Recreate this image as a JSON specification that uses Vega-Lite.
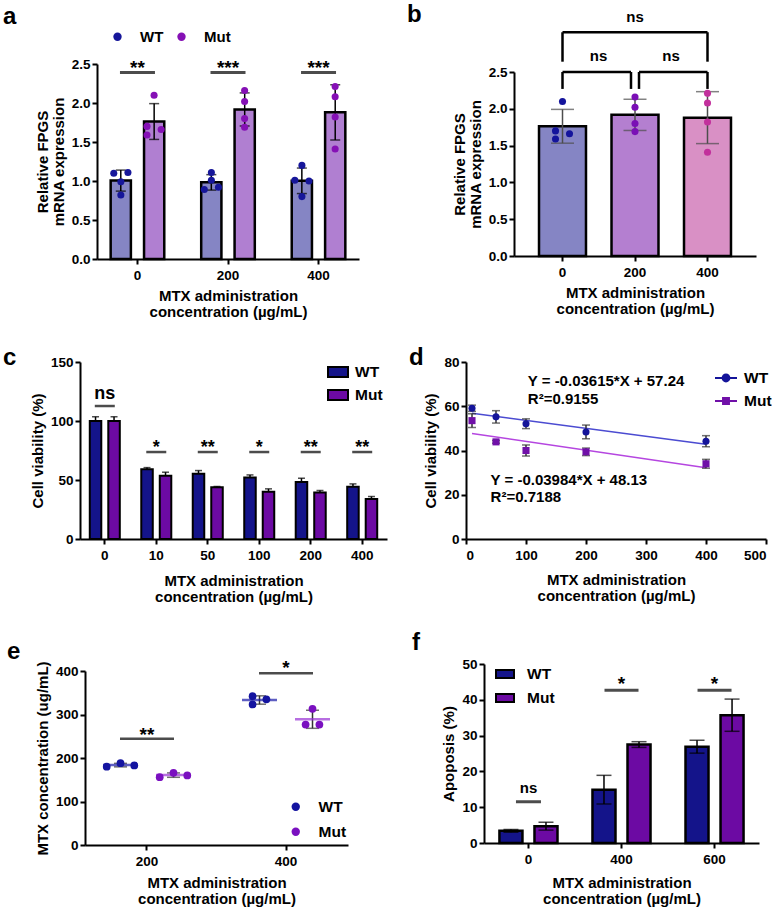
{
  "$schema": "https://vega.github.io/schema/vega-lite/v6.json",
  "background": "white",
  "padding": {"left": 3, "top": 2, "right": 0, "bottom": 0},
  "config": {
    "font": "Liberation Sans",
    "view": {"stroke": null},
    "axis": {
      "grid": false, "domainColor": "#000", "domainWidth": 2, "tickColor": "#000", "tickWidth": 2, "tickSize": 5,
      "labelFont": "Liberation Sans", "labelFontSize": 13.5, "labelFontWeight": "bold", "labelColor": "#000", "labelPadding": 2, "labelOverlap": false, "labelBound": false,
      "titleFont": "Liberation Sans", "titleFontSize": 15, "titleFontWeight": "bold", "titleColor": "#000", "titleLineHeight": 16
    },
    "axisX": {"labelAngle": 0, "labelPadding": 4},
    "axisY": {"titlePadding": 5},
    "legend": {"labelFont": "Liberation Sans", "labelFontSize": 15.5, "labelFontWeight": "bold", "labelColor": "#000", "padding": 0},
    "title": {"font": "Liberation Sans", "fontSize": 24, "fontWeight": "bold", "color": "#000", "anchor": "start", "frame": "group", "offset": 0, "baseline": "alphabetic"},
    "text": {"font": "Liberation Sans", "fontWeight": "bold", "color": "#000"}
  },
  "datasets": {
    "fpgs": [
      {"dose": 0, "genotype": "WT", "value": 1.10, "lane": -1},
      {"dose": 0, "genotype": "WT", "value": 1.11, "lane": 1},
      {"dose": 0, "genotype": "WT", "value": 0.99, "lane": 0},
      {"dose": 0, "genotype": "WT", "value": 0.82, "lane": 0},
      {"dose": 200, "genotype": "WT", "value": 1.11, "lane": 0},
      {"dose": 200, "genotype": "WT", "value": 1.01, "lane": 0},
      {"dose": 200, "genotype": "WT", "value": 0.89, "lane": -1},
      {"dose": 200, "genotype": "WT", "value": 0.92, "lane": 1},
      {"dose": 400, "genotype": "WT", "value": 1.20, "lane": 0},
      {"dose": 400, "genotype": "WT", "value": 1.01, "lane": -1},
      {"dose": 400, "genotype": "WT", "value": 1.00, "lane": 1},
      {"dose": 400, "genotype": "WT", "value": 0.80, "lane": 0},
      {"dose": 0, "genotype": "Mut", "value": 2.10, "lane": 0},
      {"dose": 0, "genotype": "Mut", "value": 1.70, "lane": -1},
      {"dose": 0, "genotype": "Mut", "value": 1.66, "lane": 1},
      {"dose": 0, "genotype": "Mut", "value": 1.59, "lane": -1},
      {"dose": 200, "genotype": "Mut", "value": 2.16, "lane": 0},
      {"dose": 200, "genotype": "Mut", "value": 2.02, "lane": 0},
      {"dose": 200, "genotype": "Mut", "value": 1.80, "lane": 0},
      {"dose": 200, "genotype": "Mut", "value": 1.69, "lane": 0},
      {"dose": 400, "genotype": "Mut", "value": 2.21, "lane": 0},
      {"dose": 400, "genotype": "Mut", "value": 2.08, "lane": 0},
      {"dose": 400, "genotype": "Mut", "value": 1.82, "lane": 0},
      {"dose": 400, "genotype": "Mut", "value": 1.41, "lane": 0}
    ],
    "viability": [
      {"dose": 0, "genotype": "WT", "mean": 100, "err": 3.6},
      {"dose": 10, "genotype": "WT", "mean": 59.1, "err": 1.4},
      {"dose": 50, "genotype": "WT", "mean": 55.2, "err": 2.8},
      {"dose": 100, "genotype": "WT", "mean": 52.1, "err": 2.2},
      {"dose": 200, "genotype": "WT", "mean": 48.4, "err": 3.1},
      {"dose": 400, "genotype": "WT", "mean": 44.2, "err": 2.5},
      {"dose": 0, "genotype": "Mut", "mean": 100, "err": 3.6},
      {"dose": 10, "genotype": "Mut", "mean": 53.5, "err": 3.1},
      {"dose": 50, "genotype": "Mut", "mean": 43.9, "err": 0.6},
      {"dose": 100, "genotype": "Mut", "mean": 40.0, "err": 2.5},
      {"dose": 200, "genotype": "Mut", "mean": 39.4, "err": 1.7},
      {"dose": 400, "genotype": "Mut", "mean": 34.0, "err": 2.0}
    ],
    "vfit": [
      {"genotype": "WT", "dose": 10, "fit": 56.8785},
      {"genotype": "WT", "dose": 400, "fit": 42.78},
      {"genotype": "Mut", "dose": 10, "fit": 47.7316},
      {"genotype": "Mut", "dose": 400, "fit": 32.194}
    ],
    "econc": [
      {"dose": 200, "genotype": "WT", "value": 180, "lane": -2},
      {"dose": 200, "genotype": "WT", "value": 188, "lane": 0},
      {"dose": 200, "genotype": "WT", "value": 183, "lane": 2},
      {"dose": 200, "genotype": "Mut", "value": 156, "lane": -2},
      {"dose": 200, "genotype": "Mut", "value": 166, "lane": 0},
      {"dose": 200, "genotype": "Mut", "value": 160, "lane": 2},
      {"dose": 400, "genotype": "WT", "value": 342, "lane": -1},
      {"dose": 400, "genotype": "WT", "value": 335, "lane": 1},
      {"dose": 400, "genotype": "WT", "value": 323, "lane": -1},
      {"dose": 400, "genotype": "Mut", "value": 313, "lane": 0},
      {"dose": 400, "genotype": "Mut", "value": 277, "lane": -1},
      {"dose": 400, "genotype": "Mut", "value": 277, "lane": 1}
    ],
    "apoptosis": [
      {"dose": 0, "genotype": "WT", "mean": 3.4, "err": 0.4},
      {"dose": 400, "genotype": "WT", "mean": 14.9, "err": 4.0},
      {"dose": 600, "genotype": "WT", "mean": 26.9, "err": 1.8},
      {"dose": 0, "genotype": "Mut", "mean": 4.7, "err": 1.1},
      {"dose": 400, "genotype": "Mut", "mean": 27.5, "err": 0.8},
      {"dose": 600, "genotype": "Mut", "mean": 35.7, "err": 4.5}
    ]
  },
  "columns": 1,
  "align": "none",
  "spacing": 26,
  "resolve": {"scale": {"color": "independent", "fill": "independent", "shape": "independent", "stroke": "independent", "xOffset": "independent"}},
  "concat": [
    {
      "columns": 2,
      "align": "none",
      "spacing": 48,
      "resolve": {"scale": {"color": "independent", "fill": "independent", "shape": "independent", "stroke": "independent", "xOffset": "independent"}},
      "concat": [
        {
          "width": 279, "height": 195,
          "title": {"text": "a", "dx": -77, "dy": 4},
          "resolve": {"scale": {"xOffset": "independent"}},
          "layer": [
            {
              "data": {"name": "fpgs"},
              "transform": [
                {"aggregate": [{"op": "mean", "field": "value", "as": "m"}, {"op": "stdev", "field": "value", "as": "sd"}], "groupby": ["dose", "genotype"]},
                {"calculate": "datum.m - datum.sd", "as": "lo"},
                {"calculate": "datum.m + datum.sd", "as": "hi"}
              ],
              "encoding": {
                "x": {"field": "dose", "type": "ordinal", "scale": {"range": [17, 279], "paddingInner": 0.408, "paddingOuter": 0.151}, "axis": {"titlePadding": 7, "title": ["MTX administration", "concentration (µg/mL)"]}},
                "xOffset": {"field": "genotype", "type": "nominal", "sort": ["WT", "Mut"], "scale": {"paddingInner": 0.394, "paddingOuter": 0}}
              },
              "layer": [
                {
                  "mark": {"type": "bar", "stroke": "#000", "strokeWidth": 2.5},
                  "encoding": {
                    "y": {"field": "m", "type": "quantitative", "scale": {"domain": [0, 2.5], "nice": false}, "axis": {"values": [0, 0.5, 1, 1.5, 2, 2.5], "tickCount": 6, "format": ".1f", "offset": -17, "labelOverlap": false, "title": ["Relative FPGS", "mRNA expression"]}},
                    "fill": {"condition": {"test": "datum.genotype === 'WT'", "value": "#8585c4"}, "value": "#b07fd1"}
                  }
                },
                {"mark": {"type": "rule", "color": "#000", "strokeWidth": 1.5}, "encoding": {"y": {"field": "lo", "type": "quantitative"}, "y2": {"field": "hi"}}},
                {"mark": {"type": "tick", "orient": "horizontal", "color": "#000", "size": 10, "thickness": 1.5}, "encoding": {"y": {"field": "hi", "type": "quantitative"}}},
                {"mark": {"type": "tick", "orient": "horizontal", "color": "#000", "size": 10, "thickness": 1.5}, "encoding": {"y": {"field": "lo", "type": "quantitative"}}}
              ]
            },
            {
              "data": {"name": "fpgs"},
              "transform": [{"calculate": "(datum.genotype === 'WT' ? 0.19 : 0.81) + datum.lane * 0.132", "as": "off"}],
              "mark": {"type": "circle", "size": 50, "opacity": 1},
              "encoding": {
                "x": {"field": "dose", "type": "ordinal"},
                "xOffset": {"field": "off", "type": "quantitative", "scale": {"domain": [0, 1], "nice": false, "zero": false}},
                "y": {"field": "value", "type": "quantitative"},
                "color": {
                  "field": "genotype", "type": "nominal",
                  "scale": {"domain": ["WT", "Mut"], "range": ["#16169a", "#8510b5"]},
                  "legend": {"title": null, "orient": "none", "direction": "horizontal", "legendX": 30, "legendY": -35, "symbolType": "circle", "symbolSize": 70, "labelOffset": 15, "columnPadding": 10, "labelFontSize": 15}
                }
              }
            },
            {
              "data": {"values": [
                {"dose": 0, "label": "**", "line_at": 2.39, "text_at": 2.37},
                {"dose": 200, "label": "***", "line_at": 2.39, "text_at": 2.37},
                {"dose": 400, "label": "***", "line_at": 2.39, "text_at": 2.37}
              ]},
              "layer": [
                {"mark": {"type": "tick", "orient": "horizontal", "color": "#000", "size": 35, "thickness": 3}, "encoding": {"x": {"field": "dose", "type": "ordinal"}, "y": {"field": "line_at", "type": "quantitative"}}},
                {"mark": {"type": "text", "fontSize": 19, "baseline": "alphabetic"}, "encoding": {"x": {"field": "dose", "type": "ordinal"}, "y": {"field": "text_at", "type": "quantitative"}, "text": {"field": "label"}}}
              ]
            }
          ]
        },
        {
          "width": 242, "height": 192,
          "title": {"text": "b", "dx": -107, "dy": 21},
          "resolve": {"scale": {"xOffset": "independent"}},
          "layer": [
            {
              "data": {"name": "fpgs"},
              "transform": [
                {"filter": "datum.genotype === 'Mut'"},
                {"aggregate": [{"op": "mean", "field": "value", "as": "m"}, {"op": "stdev", "field": "value", "as": "sd"}], "groupby": ["dose"]},
                {"calculate": "datum.m - datum.sd", "as": "lo"},
                {"calculate": "datum.m + datum.sd", "as": "hi"}
              ],
              "encoding": {
                "x": {"field": "dose", "type": "ordinal", "scale": {"paddingInner": 0.352, "paddingOuter": 0.345}, "axis": {"titlePadding": 7, "title": ["MTX administration", "concentration (µg/mL)"]}}
              },
              "layer": [
                {
                  "mark": {"type": "bar", "stroke": "#000", "strokeWidth": 2.5},
                  "encoding": {
                    "y": {"field": "m", "type": "quantitative", "scale": {"domain": [0, 2.5], "range": [192, 8], "nice": false}, "axis": {"values": [0, 0.5, 1, 1.5, 2, 2.5], "tickCount": 6, "format": ".1f", "labelOverlap": false, "title": ["Relative FPGS", "mRNA expression"]}},
                    "fill": {"field": "dose", "type": "ordinal", "scale": {"range": ["#8585c4", "#b47fd0", "#d990c5"]}, "legend": null}
                  }
                },
                {"mark": {"type": "rule", "color": "#4d4d4d", "strokeWidth": 1.5}, "encoding": {"y": {"field": "lo", "type": "quantitative"}, "y2": {"field": "hi"}}},
                {"mark": {"type": "tick", "orient": "horizontal", "color": "#4d4d4d", "size": 23, "thickness": 1.5}, "encoding": {"y": {"field": "hi", "type": "quantitative"}}},
                {"mark": {"type": "tick", "orient": "horizontal", "color": "#4d4d4d", "size": 23, "thickness": 1.5}, "encoding": {"y": {"field": "lo", "type": "quantitative"}}}
              ]
            },
            {
              "data": {"name": "fpgs"},
              "transform": [{"filter": "datum.genotype === 'Mut'"}, {"calculate": "0.5 + datum.lane * 0.149", "as": "off"}],
              "mark": {"type": "circle", "size": 50, "opacity": 1},
              "encoding": {
                "x": {"field": "dose", "type": "ordinal"},
                "xOffset": {"field": "off", "type": "quantitative", "scale": {"domain": [0, 1], "nice": false, "zero": false}},
                "y": {"field": "value", "type": "quantitative"},
                "color": {"field": "dose", "type": "ordinal", "scale": {"range": ["#14149c", "#7a0fb5", "#c2309c"]}, "legend": null}
              }
            },
            {
              "data": {"values": [
                {"pair": "L", "from": 0, "to": 200, "mid": 0, "level": 2.5, "drop": 2.27, "label": "ns", "text_at": 2.65},
                {"pair": "R", "from": 200, "to": 400, "mid": 200, "level": 2.5, "drop": 2.27, "label": "ns", "text_at": 2.65},
                {"pair": "T", "from": 0, "to": 400, "mid": 200, "level": 3.04, "drop": 2.64, "label": "ns", "text_at": 3.18}
              ]},
              "layer": [
                {"transform": [{"filter": "datum.pair === 'T'"}], "mark": {"type": "rule", "color": "#000", "strokeWidth": 2.5}, "encoding": {"x": {"field": "from", "type": "ordinal"}, "x2": {"field": "to"}, "y": {"field": "level", "type": "quantitative"}}},
                {"transform": [{"filter": "datum.pair === 'L'"}], "mark": {"type": "rule", "color": "#000", "strokeWidth": 2.5, "x2Offset": -4}, "encoding": {"x": {"field": "from", "type": "ordinal"}, "x2": {"field": "to"}, "y": {"field": "level", "type": "quantitative"}}},
                {"transform": [{"filter": "datum.pair === 'R'"}], "mark": {"type": "rule", "color": "#000", "strokeWidth": 2.5, "xOffset": 4}, "encoding": {"x": {"field": "from", "type": "ordinal"}, "x2": {"field": "to"}, "y": {"field": "level", "type": "quantitative"}}},
                {"transform": [{"filter": "datum.pair !== 'R'"}], "mark": {"type": "rule", "color": "#000", "strokeWidth": 2.5}, "encoding": {"x": {"field": "from", "type": "ordinal"}, "y": {"field": "level", "type": "quantitative"}, "y2": {"field": "drop"}}},
                {"transform": [{"filter": "datum.pair === 'R'"}], "mark": {"type": "rule", "color": "#000", "strokeWidth": 2.5, "xOffset": 4}, "encoding": {"x": {"field": "from", "type": "ordinal"}, "y": {"field": "level", "type": "quantitative"}, "y2": {"field": "drop"}}},
                {"transform": [{"filter": "datum.pair !== 'L'"}], "mark": {"type": "rule", "color": "#000", "strokeWidth": 2.5}, "encoding": {"x": {"field": "to", "type": "ordinal"}, "y": {"field": "level", "type": "quantitative"}, "y2": {"field": "drop"}}},
                {"transform": [{"filter": "datum.pair === 'L'"}], "mark": {"type": "rule", "color": "#000", "strokeWidth": 2.5, "xOffset": -4}, "encoding": {"x": {"field": "to", "type": "ordinal"}, "y": {"field": "level", "type": "quantitative"}, "y2": {"field": "drop"}}},
                {"transform": [{"filter": "datum.pair !== 'T'"}], "mark": {"type": "text", "fontSize": 15, "baseline": "alphabetic", "dx": 36}, "encoding": {"x": {"field": "mid", "type": "ordinal"}, "y": {"field": "text_at", "type": "quantitative"}, "text": {"field": "label"}}},
                {"transform": [{"filter": "datum.pair === 'T'"}], "mark": {"type": "text", "fontSize": 15, "baseline": "alphabetic"}, "encoding": {"x": {"field": "mid", "type": "ordinal"}, "y": {"field": "text_at", "type": "quantitative"}, "text": {"field": "label"}}}
              ]
            }
          ]
        }
      ]
    },
    {
      "columns": 2,
      "align": "none",
      "spacing": 22,
      "resolve": {"scale": {"color": "independent", "fill": "independent", "shape": "independent", "stroke": "independent", "xOffset": "independent"}},
      "concat": [
        {
          "width": 307, "height": 177,
          "title": {"text": "c", "dx": -77, "dy": 19},
          "layer": [
            {
              "data": {"name": "viability"},
              "transform": [{"calculate": "datum.mean + datum.err", "as": "hi"}],
              "encoding": {
                "x": {"field": "dose", "type": "ordinal", "scale": {"paddingInner": 0.417, "paddingOuter": 0.19}, "axis": {"titlePadding": 12, "title": ["MTX administration", "concentration (µg/mL)"]}},
                "xOffset": {"field": "genotype", "type": "nominal", "sort": ["WT", "Mut"], "scale": {"paddingInner": 0.378, "paddingOuter": 0}}
              },
              "layer": [
                {
                  "mark": {"type": "bar", "stroke": "#000", "strokeWidth": 2},
                  "encoding": {
                    "y": {"field": "mean", "type": "quantitative", "scale": {"domain": [0, 150], "nice": false}, "axis": {"values": [0, 50, 100, 150], "tickCount": 4, "labelOverlap": false, "title": "Cell viability (%)"}},
                    "fill": {
                      "field": "genotype", "type": "nominal",
                      "scale": {"domain": ["WT", "Mut"], "range": ["#14148a", "#6c0aa3"]},
                      "legend": {"title": null, "orient": "none", "legendX": 247, "legendY": -1, "symbolType": "M-1,-0.5H1V0.5H-1Z", "symbolSize": 400, "symbolStrokeColor": "#000", "symbolStrokeWidth": 2, "labelOffset": 6, "rowPadding": 3}
                    }
                  }
                },
                {"mark": {"type": "rule", "color": "#000", "strokeWidth": 1.5}, "encoding": {"y": {"field": "mean", "type": "quantitative"}, "y2": {"field": "hi"}}},
                {"mark": {"type": "tick", "orient": "horizontal", "color": "#000", "size": 7, "thickness": 1.5}, "encoding": {"y": {"field": "hi", "type": "quantitative"}}}
              ]
            },
            {
              "data": {"values": [
                {"dose": 0, "label": "ns", "line_at": 112.7, "text_at": 119},
                {"dose": 10, "label": "*", "line_at": 73.7, "text_at": 72.5},
                {"dose": 50, "label": "**", "line_at": 73.7, "text_at": 72.5},
                {"dose": 100, "label": "*", "line_at": 73.7, "text_at": 72.5},
                {"dose": 200, "label": "**", "line_at": 73.7, "text_at": 72.5},
                {"dose": 400, "label": "**", "line_at": 73.7, "text_at": 72.5}
              ]},
              "layer": [
                {"mark": {"type": "tick", "orient": "horizontal", "color": "#000", "size": 20, "thickness": 2.5}, "encoding": {"x": {"field": "dose", "type": "ordinal"}, "y": {"field": "line_at", "type": "quantitative"}}},
                {"mark": {"type": "text", "fontSize": 18, "baseline": "alphabetic"}, "encoding": {"x": {"field": "dose", "type": "ordinal"}, "y": {"field": "text_at", "type": "quantitative"}, "text": {"field": "label"}}}
              ]
            }
          ]
        },
        {
          "width": 300, "height": 177,
          "title": {"text": "d", "dx": -57, "dy": 19},
          "layer": [
            {
              "data": {"name": "vfit"},
              "mark": {"type": "line", "strokeWidth": 1.5},
              "encoding": {
                "x": {"field": "dose", "type": "quantitative", "scale": {"domain": [0, 500], "nice": false}, "axis": {"values": [0, 100, 200, 300, 400, 500], "tickCount": 6, "titlePadding": 11, "title": ["MTX administration", "concentration (µg/mL)"]}},
                "y": {"field": "fit", "type": "quantitative", "scale": {"domain": [0, 80], "nice": false}, "axis": {"values": [0, 20, 40, 60, 80], "tickCount": 5, "labelOverlap": false, "title": "Cell viability (%)"}},
                "detail": {"field": "genotype", "type": "nominal"},
                "stroke": {"condition": {"test": "datum.genotype === 'WT'", "value": "#4b4bd1"}, "value": "#b546e0"}
              }
            },
            {
              "data": {"name": "viability"},
              "transform": [
                {"filter": "datum.dose > 0"},
                {"calculate": "datum.mean - datum.err", "as": "lo"},
                {"calculate": "datum.mean + datum.err", "as": "hi"}
              ],
              "encoding": {"x": {"field": "dose", "type": "quantitative"}},
              "layer": [
                {"mark": {"type": "rule", "color": "#333", "strokeWidth": 1.5}, "encoding": {"y": {"field": "lo", "type": "quantitative"}, "y2": {"field": "hi"}}},
                {"mark": {"type": "tick", "orient": "horizontal", "color": "#333", "size": 8, "thickness": 1.5}, "encoding": {"y": {"field": "hi", "type": "quantitative"}}},
                {"mark": {"type": "tick", "orient": "horizontal", "color": "#333", "size": 8, "thickness": 1.5}, "encoding": {"y": {"field": "lo", "type": "quantitative"}}},
                {
                  "mark": {"type": "point", "filled": true, "size": 50, "opacity": 1},
                  "encoding": {
                    "y": {"field": "mean", "type": "quantitative"},
                    "shape": {"condition": {"test": "datum.genotype === 'WT'", "value": "circle"}, "value": "square"},
                    "color": {"condition": {"test": "datum.genotype === 'WT'", "value": "#14149a"}, "value": "#7010a8"}
                  }
                },
                {
                  "mark": {"type": "point", "filled": true, "size": 0, "opacity": 1},
                  "encoding": {
                    "y": {"field": "mean", "type": "quantitative"},
                    "color": {
                      "field": "genotype", "type": "nominal",
                      "scale": {"domain": ["WT", "Mut"], "range": ["#14149a", "#7010a8"]},
                      "legend": {"title": null, "orient": "none", "legendX": 248, "legendY": 4, "symbolSize": 484, "rowPadding": 2, "labelOffset": 6}
                    },
                    "shape": {
                      "field": "genotype", "type": "nominal",
                      "scale": {"domain": ["WT", "Mut"], "range": ["M-1,-0.08H1V0.08H-1Z M0.4,0A0.4,0.4,0,1,1,-0.4,0A0.4,0.4,0,1,1,0.4,0Z", "M-1,-0.08H1V0.08H-1Z M-0.36,-0.36H0.36V0.36H-0.36Z"]},
                      "legend": {"title": null, "orient": "none", "legendX": 248, "legendY": 4, "symbolSize": 484, "rowPadding": 2, "labelOffset": 6}
                    }
                  }
                }
              ]
            },
            {
              "data": {"values": [
                {"line": "Y = -0.03615*X + 57.24", "dose": 103, "pos": 71.4},
                {"line": "R²=0.9155", "dose": 103, "pos": 63.3},
                {"line": "Y = -0.03984*X + 48.13", "dose": 41, "pos": 26.7},
                {"line": "R²=0.7188", "dose": 41, "pos": 19.1}
              ]},
              "mark": {"type": "text", "align": "left", "baseline": "middle", "fontSize": 15},
              "encoding": {"x": {"field": "dose", "type": "quantitative"}, "y": {"field": "pos", "type": "quantitative"}, "text": {"field": "line"}}
            }
          ]
        }
      ]
    },
    {
      "columns": 2,
      "align": "none",
      "spacing": 64,
      "resolve": {"scale": {"color": "independent", "fill": "independent", "shape": "independent", "stroke": "independent", "xOffset": "independent"}},
      "concat": [
        {
          "width": 268, "height": 181,
          "title": {"text": "e", "dx": -73, "dy": 9},
          "layer": [
            {
              "data": {"name": "econc"},
              "transform": [
                {"aggregate": [{"op": "mean", "field": "value", "as": "m"}, {"op": "stdev", "field": "value", "as": "sd"}], "groupby": ["dose", "genotype"]},
                {"calculate": "datum.m - datum.sd", "as": "lo"},
                {"calculate": "datum.m + datum.sd", "as": "hi"},
                {"calculate": "datum.genotype === 'WT' ? 0.2863 : 0.7137", "as": "off"}
              ],
              "encoding": {
                "x": {"field": "dose", "type": "ordinal", "scale": {"range": [5, 268], "paddingInner": 0.108, "paddingOuter": 0}, "axis": {"titlePadding": 8, "title": ["MTX administration", "concentration (µg/mL)"]}},
                "xOffset": {"field": "off", "type": "quantitative", "scale": {"domain": [0, 1], "nice": false, "zero": false}}
              },
              "layer": [
                {"mark": {"type": "rule", "color": "#333", "strokeWidth": 1.5}, "encoding": {"y": {"field": "lo", "type": "quantitative"}, "y2": {"field": "hi"}}},
                {"mark": {"type": "tick", "orient": "horizontal", "color": "#333", "size": 13, "thickness": 1.5}, "encoding": {"y": {"field": "hi", "type": "quantitative"}}},
                {"mark": {"type": "tick", "orient": "horizontal", "color": "#333", "size": 13, "thickness": 1.5}, "encoding": {"y": {"field": "lo", "type": "quantitative"}}},
                {"mark": {"type": "tick", "orient": "horizontal", "size": 35, "thickness": 2.5}, "encoding": {"y": {"field": "m", "type": "quantitative"}, "fill": {"condition": {"test": "datum.genotype === 'WT'", "value": "#1a1aa8"}, "value": "#9830d4"}}}
              ]
            },
            {
              "data": {"name": "econc"},
              "transform": [{"calculate": "(datum.genotype === 'WT' ? 0.2863 : 0.7137) + datum.lane * 0.0556", "as": "off"}],
              "mark": {"type": "circle", "size": 60, "opacity": 1},
              "encoding": {
                "x": {"field": "dose", "type": "ordinal"},
                "xOffset": {"field": "off", "type": "quantitative", "scale": {"domain": [0, 1], "nice": false, "zero": false}},
                "y": {"field": "value", "type": "quantitative", "scale": {"domain": [0, 400], "range": [181, 7], "nice": false}, "axis": {"values": [0, 100, 200, 300, 400], "tickCount": 5, "offset": -5, "labelOverlap": false, "title": "MTX concentration (ug/mL)"}},
                "color": {
                  "field": "genotype", "type": "nominal",
                  "scale": {"domain": ["WT", "Mut"], "range": ["#1414a0", "#7a10c0"]},
                  "legend": {"title": null, "orient": "none", "legendX": 208, "legendY": 135, "symbolType": "circle", "symbolSize": 70, "rowPadding": 8, "labelOffset": 15}
                }
              }
            },
            {
              "data": {"values": [
                {"dose": 200, "label": "**", "line_at": 244, "text_at": 240},
                {"dose": 400, "label": "*", "line_at": 395, "text_at": 392}
              ]},
              "layer": [
                {"mark": {"type": "tick", "orient": "horizontal", "color": "#000", "size": 54, "thickness": 2.5}, "encoding": {"x": {"field": "dose", "type": "ordinal"}, "y": {"field": "line_at", "type": "quantitative"}}},
                {"mark": {"type": "text", "fontSize": 19, "baseline": "alphabetic"}, "encoding": {"x": {"field": "dose", "type": "ordinal"}, "y": {"field": "text_at", "type": "quantitative"}, "text": {"field": "label"}}}
              ]
            }
          ]
        },
        {
          "width": 275, "height": 179,
          "title": {"text": "f", "dx": -72, "dy": 2},
          "layer": [
            {
              "data": {"name": "apoptosis"},
              "transform": [
                {"calculate": "datum.mean - datum.err", "as": "lo"},
                {"calculate": "datum.mean + datum.err", "as": "hi"}
              ],
              "encoding": {
                "x": {"field": "dose", "type": "ordinal", "scale": {"paddingInner": 0.376, "paddingOuter": 0.166}, "axis": {"titlePadding": 10, "title": ["MTX administration", "concentration (µg/mL)"]}},
                "xOffset": {"field": "genotype", "type": "nominal", "sort": ["WT", "Mut"], "scale": {"paddingInner": 0.343, "paddingOuter": 0}}
              },
              "layer": [
                {
                  "mark": {"type": "bar", "stroke": "#000", "strokeWidth": 2.5},
                  "encoding": {
                    "y": {"field": "mean", "type": "quantitative", "scale": {"domain": [0, 50], "nice": false}, "axis": {"values": [0, 10, 20, 30, 40, 50], "tickCount": 6, "labelOverlap": false, "title": "Apoposis (%)"}},
                    "fill": {
                      "field": "genotype", "type": "nominal",
                      "scale": {"domain": ["WT", "Mut"], "range": ["#14148a", "#6c0aa3"]},
                      "legend": {"title": null, "orient": "none", "legendX": 11, "legendY": 0, "symbolType": "M-1,-0.45H1V0.45H-1Z", "symbolSize": 324, "symbolStrokeColor": "#000", "symbolStrokeWidth": 2, "labelOffset": 12, "rowPadding": 5}
                    }
                  }
                },
                {"mark": {"type": "rule", "color": "#000", "strokeWidth": 1.5}, "encoding": {"y": {"field": "lo", "type": "quantitative"}, "y2": {"field": "hi"}}},
                {"mark": {"type": "tick", "orient": "horizontal", "color": "#000", "size": 15, "thickness": 1.5}, "encoding": {"y": {"field": "hi", "type": "quantitative"}}},
                {"mark": {"type": "tick", "orient": "horizontal", "color": "#000", "size": 15, "thickness": 1.5}, "encoding": {"y": {"field": "lo", "type": "quantitative"}}}
              ]
            },
            {
              "data": {"values": [
                {"dose": 0, "label": "ns", "line_at": 11.5, "text_at": 14.0},
                {"dose": 400, "label": "*", "line_at": 42.7, "text_at": 42.6},
                {"dose": 600, "label": "*", "line_at": 42.7, "text_at": 42.6}
              ]},
              "layer": [
                {"transform": [{"filter": "datum.label === 'ns'"}], "mark": {"type": "tick", "orient": "horizontal", "color": "#000", "size": 25, "thickness": 3}, "encoding": {"x": {"field": "dose", "type": "ordinal"}, "y": {"field": "line_at", "type": "quantitative"}}},
                {"transform": [{"filter": "datum.label !== 'ns'"}], "mark": {"type": "tick", "orient": "horizontal", "color": "#000", "size": 34, "thickness": 3}, "encoding": {"x": {"field": "dose", "type": "ordinal"}, "y": {"field": "line_at", "type": "quantitative"}}},
                {"transform": [{"filter": "datum.label === 'ns'"}], "mark": {"type": "text", "fontSize": 15, "baseline": "alphabetic"}, "encoding": {"x": {"field": "dose", "type": "ordinal"}, "y": {"field": "text_at", "type": "quantitative"}, "text": {"field": "label"}}},
                {"transform": [{"filter": "datum.label !== 'ns'"}], "mark": {"type": "text", "fontSize": 19, "baseline": "alphabetic"}, "encoding": {"x": {"field": "dose", "type": "ordinal"}, "y": {"field": "text_at", "type": "quantitative"}, "text": {"field": "label"}}}
              ]
            }
          ]
        }
      ]
    }
  ]
}
